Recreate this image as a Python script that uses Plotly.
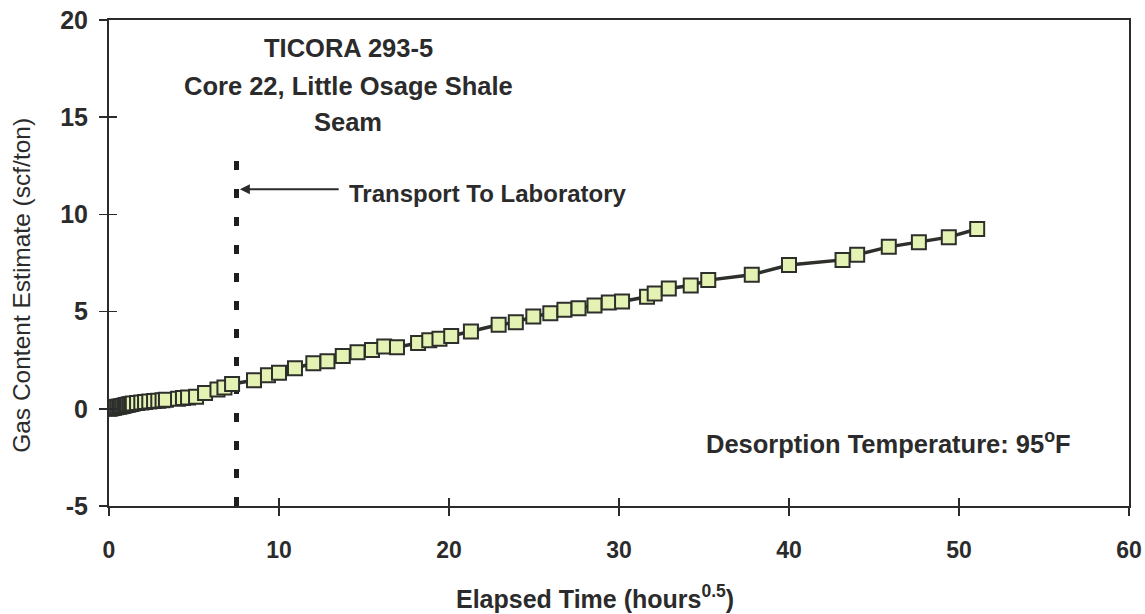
import plotly.graph_objects as go

# Elapsed time (hours^0.5) and gas content estimate (scf/ton)
time_sqrt = [0.0, 0.1, 0.2, 0.3, 0.4, 0.5, 0.6, 0.7, 0.8, 0.9, 1.0, 1.1, 1.2, 1.3, 1.4,
             1.65, 1.9, 2.12, 2.37, 2.65, 2.9, 3.15, 3.35,
             4.06, 4.35, 4.65, 5.12, 5.65, 6.38, 6.79, 7.24, 8.53,
             9.35, 10.0, 10.94, 12.02, 12.85, 13.75, 14.62, 15.47, 16.19, 16.94,
             18.18, 18.84, 19.44, 20.13, 21.29, 22.92, 23.93, 24.96, 25.96, 26.79,
             27.62, 28.56, 29.4, 30.18, 31.65, 32.1, 32.93, 34.22, 35.25, 37.81,
             40.0, 43.15, 44.01, 45.87, 47.64, 49.4, 51.07]
gas_content = [0.0, 0.02, 0.04, 0.06, 0.08, 0.1, 0.11, 0.13, 0.15, 0.17, 0.19, 0.21, 0.23, 0.25, 0.27,
               0.30, 0.32, 0.35, 0.37, 0.40, 0.42, 0.44, 0.46,
               0.52, 0.55, 0.58, 0.62, 0.81, 0.99, 1.10, 1.28, 1.47,
               1.72, 1.86, 2.08, 2.34, 2.45, 2.72, 2.91, 3.02, 3.20, 3.17,
               3.38, 3.52, 3.60, 3.74, 3.98, 4.32, 4.45, 4.75, 4.91, 5.09,
               5.17, 5.31, 5.47, 5.52, 5.76, 5.93, 6.19, 6.34, 6.62, 6.90,
               7.40, 7.66, 7.93, 8.33, 8.57, 8.83, 9.25]

transport_time = [7.5, 7.5]
transport_span = [-5, 13.3]

x_ticks = [0, 10, 20, 30, 40, 50, 60]
x_labels = ["0", "10", "20", "30", "40", "50", "60"]
y_ticks = [-5, 0, 5, 10, 15, 20]
y_labels = ["-5", "0", "5", "10", "15", "20"]

title_lines = ["TICORA 293-5", "Core 22, Little Osage Shale", "Seam"]
title_line_y = [18.56, 16.6, 14.75]

FONT = "Liberation Sans, Arial, sans-serif"
INK = "#2b2b2b"

fig = go.Figure()

fig.add_trace(go.Scatter(
    x=transport_time, y=transport_span, mode="lines",
    line=dict(color="#1e1e1e", width=5, dash="9px,19px"),
    hoverinfo="skip", showlegend=False))

fig.add_trace(go.Scatter(
    x=time_sqrt, y=gas_content, mode="lines+markers",
    line=dict(color="#2d2f2b", width=3.5),
    marker=dict(symbol="square", size=14, color="#e4f2b4",
                line=dict(color="#2d2f2b", width=2)),
    showlegend=False))

# invisible trace to activate the overlay axes carrying the inner half of the cross ticks
fig.add_trace(go.Scatter(x=[0], y=[0], xaxis="x2", yaxis="y2", mode="markers",
                         marker=dict(opacity=0), hoverinfo="skip", showlegend=False))

axis_common = dict(showgrid=False, zeroline=False, linecolor=INK, linewidth=2,
                   tickcolor=INK, tickwidth=1.5, automargin=False,
                   ticklabeloverflow="allow")

annotations = []
for line, ly in zip(title_lines, title_line_y):
    annotations.append(dict(text=line, x=14.06, y=ly, xref="x", yref="y",
                            xanchor="center", yanchor="middle", showarrow=False,
                            font=dict(family=FONT, size=25.5, color=INK, weight="bold")))
annotations += [
    dict(text="Transport To Laboratory", x=14.0, y=11.1, xref="x", yref="y",
         xanchor="left", yanchor="middle", showarrow=False,
         font=dict(family=FONT, size=24, color=INK, weight="bold")),
    dict(text="", x=7.7, y=11.3, ax=13.6, ay=11.3, xref="x", yref="y",
         axref="x", ayref="y", showarrow=True, arrowhead=2, arrowsize=1,
         arrowwidth=2, arrowcolor=INK),
    dict(text="Desorption Temperature: 95<sup>o</sup>F", x=56.7, y=-1.7,
         xref="x", yref="y", xanchor="right", yanchor="middle", showarrow=False,
         font=dict(family=FONT, size=25.5, color=INK, weight="bold")),
    dict(text="Elapsed Time (hours<sup>0.5</sup>)", x=(595 - 109) / 1020, y=-0.187,
         xref="paper", yref="paper", xanchor="center", yanchor="middle",
         showarrow=False, font=dict(family=FONT, size=25, color=INK, weight="bold")),
    dict(text="Gas Content Estimate (scf/ton)", x=-0.0853, y=0.455,
         xref="paper", yref="paper", xanchor="center", yanchor="middle",
         textangle=-90, showarrow=False,
         font=dict(family=FONT, size=24.5, color=INK)),
]

fig.update_layout(
    width=1145, height=614,
    margin=dict(l=109, r=16, t=20, b=108, autoexpand=False),
    paper_bgcolor="white", plot_bgcolor="white",
    xaxis=dict(range=[0, 60], tickvals=x_ticks, ticktext=x_labels, ticks="outside",
               ticklen=8, mirror=True, showline=True, ticklabelstandoff=14,
               tickfont=dict(family=FONT, size=23, color=INK, weight="bold"),
               **axis_common),
    yaxis=dict(range=[-5, 20], tickvals=y_ticks, ticktext=y_labels, ticks="outside",
               ticklen=8, mirror=True, showline=True, ticklabelstandoff=6,
               tickfont=dict(family=FONT, size=25, color=INK, weight="bold"),
               **axis_common),
    xaxis2=dict(range=[0, 60], tickvals=x_ticks, ticks="inside", ticklen=8,
                overlaying="x", anchor="y", side="bottom", showline=False,
                showticklabels=False, showgrid=False, zeroline=False,
                tickcolor=INK, tickwidth=1.5),
    yaxis2=dict(range=[-5, 20], tickvals=y_ticks, ticks="inside", ticklen=8,
                overlaying="y", anchor="x", side="left", showline=False,
                showticklabels=False, showgrid=False, zeroline=False,
                tickcolor=INK, tickwidth=1.5),
    annotations=annotations,
)

# remove the browser's default 8px body margin so the figure fills the window exactly
fig.write_html("out.html",
               config={"displayModeBar": False, "staticPlot": True},
               post_script="document.body.style.margin='0';document.body.style.overflow='hidden';")
